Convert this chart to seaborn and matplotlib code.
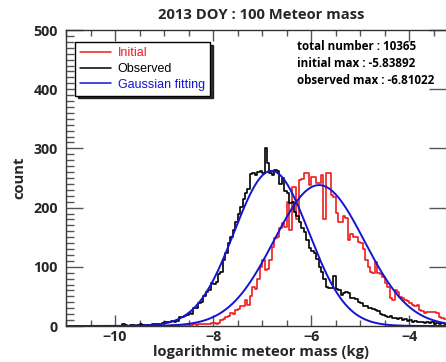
import numpy as np
import pandas as pd
import matplotlib
matplotlib.use("Agg")
import matplotlib.pyplot as plt
import seaborn as sns
from matplotlib.ticker import MultipleLocator

# Histogram bins: 0.05-wide bins of log10(mass) starting at -10.0
bin_start = -10.0
bin_width = 0.05

# Counts per bin
observed_counts = [
    0, 0, 0, 3, 1, 0, 1, 1, 0, 2,
    3, 2, 2, 1, 2, 3, 4, 4, 3, 5,
    6, 7, 7, 8, 6, 8, 16, 15, 17, 18,
    22, 21, 30, 31, 39, 40, 50, 57, 60, 72,
    71, 75, 88, 91, 111, 123, 140, 150, 162, 175,
    190, 201, 215, 225, 232, 257, 258, 255, 260, 262,
    258, 300, 276, 258, 255, 263, 261, 240, 250, 228,
    225, 208, 210, 192, 185, 175, 165, 158, 145, 132,
    126, 123, 113, 100, 92, 80, 66, 64, 65, 84,
    62, 60, 53, 56, 57, 55, 48, 47, 45, 40,
    39, 34, 33, 31, 30, 28, 27, 25, 20, 19,
    17, 16, 17, 13, 14, 12, 13, 10, 11, 9,
    10, 7, 8, 6, 7, 6, 5, 7, 5, 6,
    4, 5, 4, 5, 4,
]
initial_counts = [
    0, 0, 0, 0, 0, 0, 0, 0, 0, 0,
    0, 0, 0, 0, 0, 0, 0, 0, 0, 0,
    0, 0, 0, 1, 0, 1, 1, 1, 2, 1,
    2, 2, 3, 2, 3, 4, 3, 4, 4, 5,
    5, 4, 5, 10, 12, 16, 17, 22, 21, 27,
    28, 33, 34, 44, 36, 50, 66, 62, 80, 100,
    111, 95, 96, 111, 134, 148, 150, 165, 174, 168,
    210, 162, 235, 235, 180, 246, 248, 258, 258, 238,
    252, 252, 241, 241, 255, 180, 258, 258, 222, 218,
    191, 176, 176, 185, 182, 145, 155, 151, 151, 142,
    140, 130, 111, 100, 92, 89, 108, 89, 88, 83,
    72, 66, 48, 44, 61, 58, 49, 47, 44, 42,
    39, 35, 33, 35, 27, 26, 22, 23, 24, 24,
    23, 22, 15, 13, 12,
]

# Gaussian fit parameters (amplitude, centre, width)
obs_fit = (262, -6.81022, 0.76)
init_fit = (238, -5.83892, 0.92)

total_number = 10365

n = len(observed_counts)
centers = bin_start + bin_width * (np.arange(n) + 0.5)
bin_range = (bin_start, bin_start + bin_width * n)
hist_df = pd.DataFrame({"x": centers, "observed": observed_counts, "initial": initial_counts})

xs = np.linspace(-11, -3.2, 600)
def gauss(x, a, mu, s):
    return a * np.exp(-0.5 * ((x - mu) / s) ** 2)
fit_df = pd.DataFrame({"x": xs,
                       "obs": gauss(xs, *obs_fit),
                       "init": gauss(xs, *init_fit)})

sns.set_theme(style="white")
plt.rcParams["font.family"] = ["Open Sans", "DejaVu Sans"]

RED = "#ee1c1c"
BLUE = "#1414d2"

W, H = 446, 362
fig = plt.figure(figsize=(W / 100, H / 100), dpi=100)
ax = fig.add_axes([66 / W, 1 - 326 / H, 380 / W, 296 / H])

sns.histplot(data=hist_df, x="x", weights="initial", bins=n, binrange=bin_range,
             element="step", fill=False, color=RED, linewidth=1.2, ax=ax)
sns.histplot(data=hist_df, x="x", weights="observed", bins=n, binrange=bin_range,
             element="step", fill=False, color="black", linewidth=1.2, ax=ax)
sns.lineplot(data=fit_df, x="x", y="obs", color=BLUE, linewidth=1.4, ax=ax)
sns.lineplot(data=fit_df, x="x", y="init", color=BLUE, linewidth=1.4, ax=ax)

ax.set_xlim(-11, -3.25)
ax.set_ylim(0, 500)

ax.xaxis.set_major_locator(MultipleLocator(2))
ax.xaxis.set_minor_locator(MultipleLocator(0.5))
ax.yaxis.set_major_locator(MultipleLocator(100))
ax.yaxis.set_minor_locator(MultipleLocator(10))
ax.tick_params(axis="x", which="major", direction="in", length=8, width=1,
               color="#555555", top=True, bottom=True, pad=3)
ax.tick_params(axis="x", which="minor", direction="in", length=4, width=1,
               color="#555555", top=True, bottom=True)
ax.tick_params(axis="y", which="major", direction="in", length=12, width=1,
               color="#555555", left=True, right=True, pad=6)
ax.tick_params(axis="y", which="minor", direction="in", length=6, width=1,
               color="#555555", left=True, right=False)
for lab in ax.get_xticklabels() + ax.get_yticklabels():
    lab.set_fontweight("bold")
    lab.set_fontsize(10.3)

for side in ["left", "bottom", "top"]:
    ax.spines[side].set_color("#333333")
    ax.spines[side].set_linewidth(1.0)
ax.spines["right"].set_visible(False)

ax.set_xlabel("")
ax.set_ylabel("")
fig.text(261 / W, 1 - 15 / H, "2013 DOY : 100 Meteor mass", ha="center", va="center",
         fontsize=10.6, fontweight="bold")
fig.text(261 / W, 1 - 352 / H, "logarithmic meteor mass (kg)", ha="center", va="center",
         fontsize=10.6, fontweight="bold")
fig.text(19 / W, 1 - 178 / H, "count", ha="center", va="center", rotation=90,
         fontsize=10.6, fontweight="bold")

# Summary text
info = [f"total number : {total_number}",
        f"initial max : {init_fit[1]:.5f}",
        f"observed max : {obs_fit[1]:.5f}"]
for i, line in enumerate(info):
    fig.text(297 / W, 1 - (47 + i * 16.5) / H, line, ha="left", va="center",
             fontsize=8.4, fontweight="bold", color="black")

# Legend
handles = [plt.Line2D([], [], color=RED, lw=1.1),
           plt.Line2D([], [], color="black", lw=1.1),
           plt.Line2D([], [], color=BLUE, lw=1.1)]
labels = ["Initial", "Observed", "Gaussian fitting"]
leg = ax.legend(handles, labels, loc="upper left", bbox_to_anchor=(0.024, 0.959),
                borderaxespad=0, frameon=True, fancybox=False,
                shadow={"color": "black", "alpha": 0.8},
                prop={"family": ["Liberation Sans"], "size": 9},
                handlelength=2.5, handletextpad=0.5, labelspacing=0.3,
                borderpad=0.4, framealpha=1)
leg.get_frame().set_edgecolor("black")
leg.get_frame().set_linewidth(1.0)
for txt, col in zip(leg.get_texts(), [RED, "black", BLUE]):
    txt.set_color(col)

fig.savefig("out.png", dpi=100)
